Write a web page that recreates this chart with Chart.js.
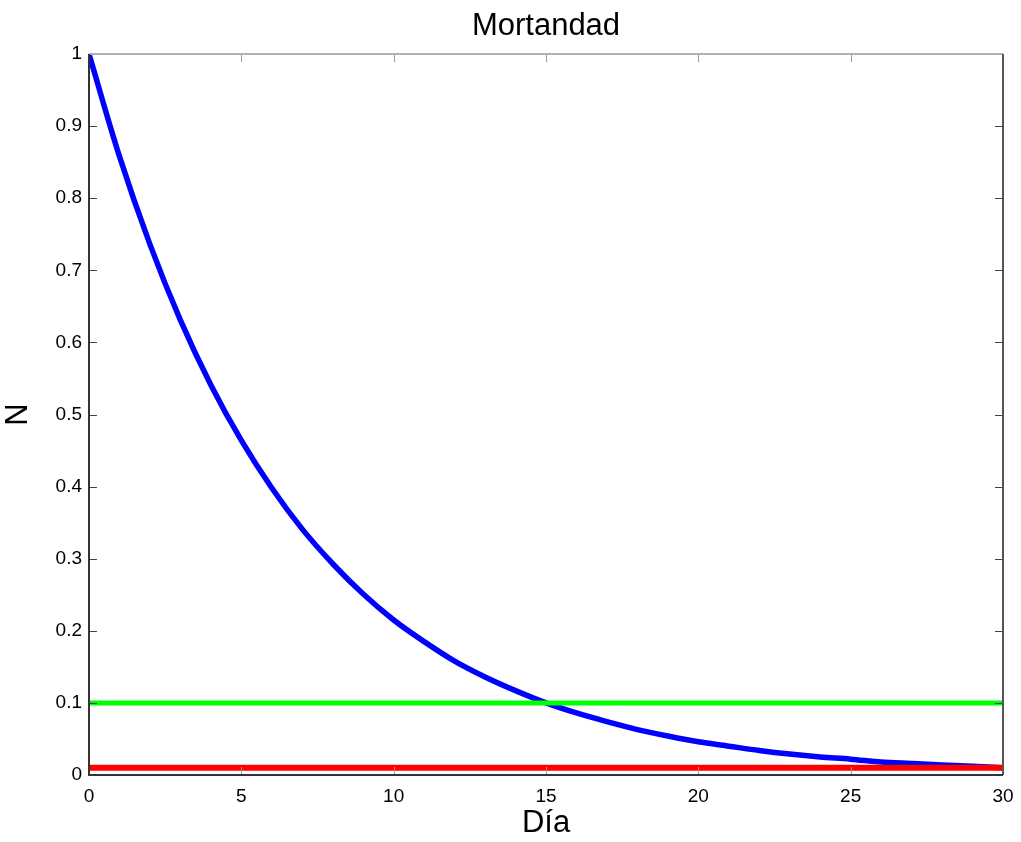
<!DOCTYPE html>
<html>
<head>
<meta charset="utf-8">
<script src="https://cdn.jsdelivr.net/npm/chart.js@4.4.1/dist/chart.umd.min.js"></script>
<style>
html,body{margin:0;padding:0;background:#fff;}
#wrap{width:1021px;height:842px;}
</style>
</head>
<body>
<div id="wrap"><canvas id="c" width="1021" height="842"></canvas></div>
<script>
const chartTitle = "Mortandad";
const xLabel = "Día";
const yLabel = "N";
const days = [0,1,2,3,4,5,6,7,8,9,10,11,12,13,14,15,16,17,18,19,20,21,22,23,24,25,26,27,28,29,30];
const survival = [1,0.858,0.736,0.631,0.541,0.464,0.398,0.341,0.293,0.251,0.215,0.185,0.158,0.136,0.117,0.100,0.086,0.074,0.063,0.054,0.046,0.040,0.034,0.029,0.025,0.022,0.018,0.016,0.014,0.012,0.010];
const thresholdDays = [0,30];
const greenLevel = [0.1,0.1];
const redLevel = [0.01,0.01];
const xTicks = [0,5,10,15,20,25,30];
const yTicks = [0,0.1,0.2,0.3,0.4,0.5,0.6,0.7,0.8,0.9,1];

const toPts = (xs, ys) => xs.map((x,i)=>({x:x,y:ys[i]}));
const fontFam = "'Liberation Sans', Arial, sans-serif";

const boxPlugin = {
  id:'box',
  afterDatasetsDraw(chart){
    const {ctx, chartArea:a, scales:{x,y}} = chart;
    ctx.save();
    ctx.strokeStyle = '#444';
    ctx.lineWidth = 1;
    const L = 8;
    yTicks.forEach(v=>{
      const py = Math.round(y.getPixelForValue(v))+0.5;
      ctx.beginPath(); ctx.moveTo(a.left,py); ctx.lineTo(a.left+L,py); ctx.stroke();
      ctx.beginPath(); ctx.moveTo(a.right,py); ctx.lineTo(a.right-L,py); ctx.stroke();
    });
    ctx.strokeStyle = '#999';
    xTicks.forEach(v=>{
      const px = Math.round(x.getPixelForValue(v))+0.5;
      ctx.beginPath(); ctx.moveTo(px,a.bottom); ctx.lineTo(px,a.bottom-L); ctx.stroke();
      ctx.beginPath(); ctx.moveTo(px,a.top); ctx.lineTo(px,a.top+L); ctx.stroke();
    });
    ctx.lineWidth = 2;
    ctx.strokeStyle = '#b0b0b0';
    ctx.beginPath(); ctx.moveTo(a.left,a.top); ctx.lineTo(a.right,a.top); ctx.stroke();
    ctx.strokeStyle = '#555';
    ctx.beginPath(); ctx.moveTo(a.right,a.top); ctx.lineTo(a.right,a.bottom); ctx.stroke();
    ctx.strokeStyle = '#333';
    ctx.beginPath(); ctx.moveTo(a.left,a.top); ctx.lineTo(a.left,a.bottom); ctx.lineTo(a.right,a.bottom); ctx.stroke();
    ctx.fillStyle = '#000';
    ctx.font = "31px " + fontFam;
    ctx.textAlign = 'center';
    ctx.textBaseline = 'alphabetic';
    ctx.fillText(chartTitle, (a.left + a.right)/2, 35);
    ctx.restore();
  }
};

new Chart(document.getElementById('c'), {
  type:'line',
  data:{
    datasets:[
      {data:toPts(thresholdDays, redLevel), borderColor:'#ff0000', borderWidth:6, pointRadius:0, order:0},
      {data:toPts(thresholdDays, greenLevel), borderColor:'#00ff00', borderWidth:5, pointRadius:0, order:1},
      {data:toPts(days, survival), borderColor:'#0000ff', borderWidth:5.5, pointRadius:0, cubicInterpolationMode:'monotone', order:2}
    ]
  },
  options:{
    responsive:false,
    animation:false,
    layout:{padding:{left:0,right:18,top:54,bottom:0}},
    plugins:{
      legend:{display:false},
      tooltip:{enabled:false},
      title:{display:false}
    },
    scales:{
      x:{
        type:'linear', min:0, max:30,
        afterBuildTicks(s){ s.ticks = xTicks.map(v=>({value:v})); },
        afterFit(s){ s.height = 67; s.paddingLeft = 0; s.paddingRight = 0; },
        grid:{display:false, drawTicks:false},
        border:{display:false},
        ticks:{color:'#000', padding:10, maxRotation:0, font:{family:fontFam, size:19}},
        title:{display:true, text:xLabel, color:'#000', font:{family:fontFam, size:31}, padding:{top:0,bottom:0}}
      },
      y:{
        type:'linear', min:0, max:1,
        afterBuildTicks(s){ s.ticks = yTicks.map(v=>({value:v})); },
        afterFit(s){ s.width = 89; s.paddingTop = 0; s.paddingBottom = 0; },
        grid:{display:false, drawTicks:false},
        border:{display:false},
        ticks:{color:'#000', padding:7, font:{family:fontFam, size:19}, callback:(v)=>String(v)},
        title:{display:true, text:yLabel, color:'#000', font:{family:fontFam, size:31}, padding:{top:0,bottom:0}}
      }
    }
  },
  plugins:[boxPlugin]
});
</script>
</body>
</html>
